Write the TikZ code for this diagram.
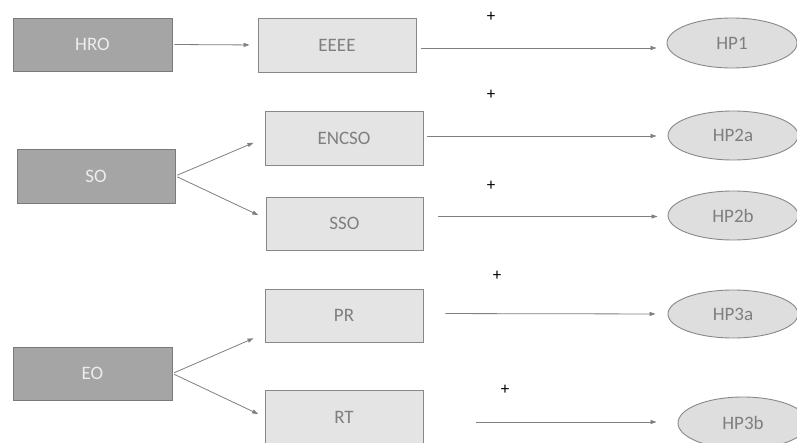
\documentclass[tikz,border=0pt]{standalone}
\usepackage{fontspec}
\setmainfont{Carlito}
\usetikzlibrary{arrows.meta,shapes.geometric}
\definecolor{darkfill}{HTML}{A5A5A5}
\definecolor{darkline}{HTML}{7A7A7A}
\definecolor{lightfill}{HTML}{E4E4E4}
\definecolor{boxline}{HTML}{888888}
\definecolor{boxtext}{HTML}{7F7F7F}
\definecolor{ovalfill}{HTML}{DEDEDE}
\definecolor{arrowgray}{HTML}{7F7F7F}
\tikzset{
  srcbox/.style={draw=darkline, fill=darkfill, line width=0.9pt, inner sep=0pt,
    text=white!93!black, font=\fontsize{19}{21}\selectfont},
  midbox/.style={draw=boxline, fill=lightfill, line width=0.9pt, inner sep=0pt,
    text=boxtext, font=\fontsize{19}{21}\selectfont},
  hypo/.style={ellipse, draw=boxline, fill=ovalfill, line width=0.9pt, inner sep=0pt,
    minimum width=130pt, text=boxtext, font=\fontsize{19}{21}\selectfont},
  link/.style={draw=arrowgray, line width=0.8pt, -{Triangle[length=6pt,width=4pt]}},
  sign/.style={inner sep=0pt, font=\fontsize{17}{18}\selectfont, text=black}
}
\begin{document}
\begin{tikzpicture}[x=1pt,y=-1pt]
\useasboundingbox (0,0) rectangle (797,443);
\fill[white] (0,0) rectangle (797,443);
\clip (0,0) rectangle (797,443);

% left column
\node[srcbox, minimum width=159pt, minimum height=53pt] (hro) at (92.5,44.5) {HRO};
\node[srcbox, minimum width=158pt, minimum height=54pt] (so)  at (96,176) {SO};
\node[srcbox, minimum width=159pt, minimum height=53pt] (eo)  at (92.5,373.5) {EO};

% middle column
\node[midbox, minimum width=158pt, minimum height=54pt] (eeee)  at (337,45) {EEEE};
\node[midbox, minimum width=158pt, minimum height=54pt] (encso) at (344,138) {ENCSO};
\node[midbox, minimum width=157pt, minimum height=53pt] (sso)   at (344.5,223.5) {SSO};
\node[midbox, minimum width=158pt, minimum height=53pt] (pr)    at (344,315.5) {PR};
\node[midbox, minimum width=158pt, minimum height=54pt] (rt)    at (344,417) {RT};

% hypotheses
\node[hypo, minimum height=50pt] (hp1)  at (732,43) {HP1};
\node[hypo, minimum height=49pt] (hp2a) at (733,135.5) {HP2a};
\node[hypo, minimum height=49pt] (hp2b) at (733,215.5) {HP2b};
\node[hypo, minimum height=48pt] (hp3a) at (733,314) {HP3a};
\node[hypo, minimum height=52pt] (hp3b) at (743,423) {HP3b};

% signs
\node[sign] (p1) at (491,17) {+};
\node[sign] (p2) at (491,95) {+};
\node[sign] (p3) at (491,186) {+};
\node[sign] (p4) at (497,276) {+};
\node[sign] (p5) at (505,390) {+};

% first-stage links
\draw[link, shorten <=2pt, shorten >=8pt] (hro.east) -- (eeee.west);
\draw[link, shorten <=2pt, shorten >=12pt] (so.east) -- (encso.west);
\draw[link, shorten <=2pt, shorten >=8pt] (so.east) -- ([yshift=5pt]sso.west);
\draw[link, shorten <=2pt, shorten >=12pt] (eo.east) -- ([yshift=-18pt]pr.west);
\draw[link, shorten <=2pt, shorten >=7pt] (eo.east) -- (rt.west);

% links to hypotheses
\draw[link, shorten <=5pt, shorten >=10pt] ([yshift=-3pt]eeee.east) -- ([yshift=-3pt]eeee.east -| hp1.west);
\draw[link, shorten <=4pt, shorten >=11pt] ([yshift=2pt]encso.east) -- ([yshift=2pt]encso.east -| hp2a.west);
\draw[link, shorten <=15pt, shorten >=10pt] ([yshift=7pt]sso.east) -- ([yshift=7pt]sso.east -| hp2b.west);
\draw[link, shorten <=22pt, shorten >=12pt] ([yshift=2pt]pr.east) -- ([yshift=0pt]hp3a.west);
\draw[link, shorten <=53pt, shorten >=21pt] ([yshift=-5pt]rt.east) -- ([yshift=-5pt]rt.east -| hp3b.west);
\end{tikzpicture}
\end{document}
